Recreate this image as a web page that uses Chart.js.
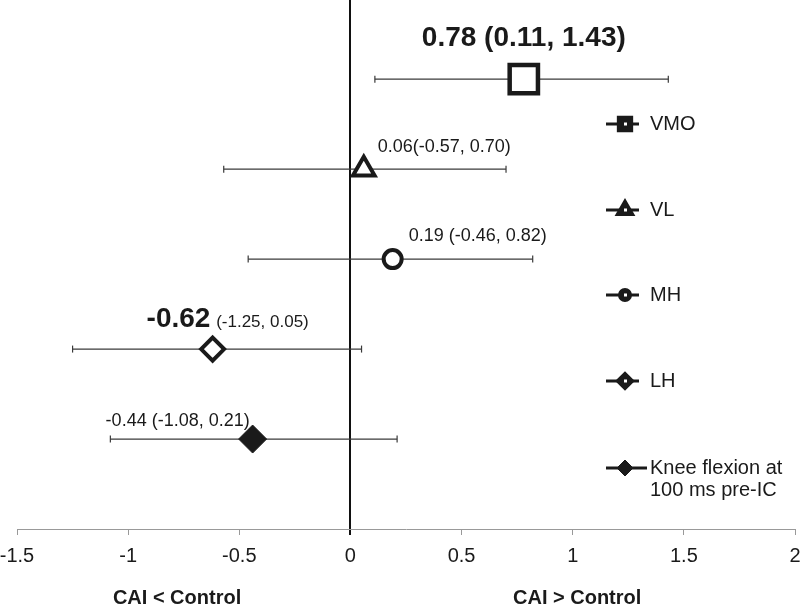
<!DOCTYPE html>
<html>
<head>
<meta charset="utf-8">
<script src="https://cdn.jsdelivr.net/npm/chart.js@4/dist/chart.umd.min.js"></script>
<style>
  html, body { margin: 0; padding: 0; background: #fff; }
  #wrap { width: 800px; height: 605px; position: relative; }
</style>
</head>
<body>
<div id="wrap"><canvas id="forest"></canvas></div>
<script>
// values
const measures = ["VMO", "VL", "MH", "LH", "Knee flexion at\n100 ms pre-IC"];
const effect = [0.78, 0.06, 0.19, -0.62, -0.44];
const lower = [0.11, -0.57, -0.46, -1.25, -1.08];
const upper = [1.43, 0.70, 0.82, 0.05, 0.21];
const rows = [5, 4, 3, 2, 1];
const headline = ["0.78 (0.11, 1.43)", "0.06(-0.57, 0.70)", "0.19 (-0.46, 0.82)", "-0.62", "-0.44 (-1.08, 0.21)"];
const ciTail = ["", "", "", " (-1.25, 0.05)", ""];
const sideLabels = ["CAI < Control", "CAI > Control"];
const sideLabelAt = [-0.78, 1.02];

const FONT = "'Liberation Sans', Arial, sans-serif";
const INK = "#1a1a1a";

const markers = [
  { style: "rect", r: 20, fill: "#fff", bw: 4.5, lr: 8, lbw: 5 },
  { style: "triangle", r: 12.5, fill: "#fff", bw: 4, lr: 8, lbw: 4 },
  { style: "circle", r: 9, fill: "#fff", bw: 4, lr: 5, lbw: 4 },
  { style: "rectRot", r: 11.5, fill: "#fff", bw: 4, lr: 7, lbw: 4 },
  { style: "rectRot", r: 14, fill: INK, bw: 1, lr: 8, lbw: 1 },
];

// label placement relative to the point (pixels)
const labelLayout = [
  { dx: 0, dy: -33, align: "center", size: 28, bold: true },
  { dx: 14, dy: -17, align: "left", size: 18, bold: false },
  { dx: 16, dy: -18, align: "left", size: 18, bold: false },
  { dx: -66, dy: -22, align: "left", size: 28, bold: true },
  { dx: -147, dy: -13, align: "left", size: 18, bold: false },
];
const legendRows = [124, 210, 295, 381, 468];

const datasets = [];
measures.forEach((m, i) => {
  const s = markers[i];
  datasets.push({
    label: m,
    data: [{ x: effect[i], y: rows[i] }],
    pointStyle: s.style,
    pointRadius: s.r,
    pointBorderWidth: s.bw,
    pointBackgroundColor: s.fill,
    pointBorderColor: INK,
    showLine: false,
    order: 0,
  });
  datasets.push({
    label: m + " CI",
    data: [{ x: lower[i], y: rows[i] }, { x: upper[i], y: rows[i] }],
    showLine: true,
    borderColor: "#3a3a3a",
    borderWidth: 1.2,
    pointStyle: "line",
    rotation: 90,
    pointRadius: 3.5,
    pointBorderWidth: 1.2,
    pointBorderColor: "#3a3a3a",
    order: 1,
  });
});

function drawMarker(ctx, style, x, y, r, bw, fill) {
  ctx.save();
  ctx.lineWidth = bw;
  ctx.strokeStyle = INK;
  ctx.fillStyle = fill;
  Chart.helpers.drawPoint(ctx, { pointStyle: style, radius: r, borderWidth: bw, rotation: 0 }, x, y);
  ctx.restore();
}

const annotate = {
  id: "annotate",
  afterDatasetsDraw(chart) {
    const { ctx, scales, chartArea } = chart;
    const xs = scales.x, ys = scales.y;
    ctx.save();
    ctx.fillStyle = INK;
    ctx.textBaseline = "alphabetic";

    headline.forEach((t, i) => {
      const L = labelLayout[i];
      const px = xs.getPixelForValue(effect[i]) + L.dx;
      const py = ys.getPixelForValue(rows[i]) + L.dy;
      ctx.font = (L.bold ? "bold " : "") + L.size + "px " + FONT;
      ctx.textAlign = L.align;
      ctx.fillText(t, px, py);
      if (ciTail[i]) {
        const w = ctx.measureText(t).width;
        ctx.font = "17px " + FONT;
        ctx.textAlign = "left";
        ctx.fillText(ciTail[i], px + w + 1, py);
      }
    });

    // legend, drawn inside the plot at the right
    measures.forEach((m, i) => {
      const s = markers[i];
      const y = legendRows[i];
      ctx.save();
      ctx.strokeStyle = INK;
      ctx.lineWidth = 3;
      ctx.beginPath();
      ctx.moveTo(606, y);
      ctx.lineTo(i === 4 ? 647 : 639, y);
      ctx.stroke();
      ctx.restore();
      drawMarker(ctx, s.style, 625, y, s.lr, s.lbw, INK);
      if (i < 4) {
        ctx.save();
        ctx.fillStyle = "#fff";
        ctx.fillRect(624, y - 1.5, 3, 3);
        ctx.restore();
      }
      ctx.font = "20px " + FONT;
      ctx.textAlign = "left";
      ctx.textBaseline = "middle";
      ctx.fillStyle = INK;
      m.split("\n").forEach((line, k) => ctx.fillText(line, 650, y + k * 22));
    });

    ctx.font = "bold 20px " + FONT;
    ctx.textAlign = "center";
    ctx.textBaseline = "alphabetic";
    sideLabels.forEach((t, i) => {
      ctx.fillText(t, xs.getPixelForValue(sideLabelAt[i]), chartArea.bottom + 75);
    });
    ctx.restore();
  },
};

new Chart(document.getElementById("forest"), {
  type: "scatter",
  data: { datasets },
  options: {
    responsive: true,
    maintainAspectRatio: false,
    animation: false,
    clip: false,
    layout: { autoPadding: false, padding: { left: 17, right: 5, top: 0, bottom: 28 } },
    plugins: { legend: { display: false }, tooltip: { enabled: false } },
    scales: {
      x: {
        type: "linear",
        min: -1.5,
        max: 2,
        afterFit: (scale) => {
          scale.paddingLeft = 0;
          scale.paddingRight = 0;
        },
        ticks: {
          stepSize: 0.5,
          padding: 9,
          color: INK,
          font: { family: FONT, size: 20 },
          callback: (v) => String(v),
        },
        grid: {
          color: (c) => (c.tick && c.tick.value === 0 ? "#111" : "rgba(0,0,0,0)"),
          lineWidth: (c) => (c.tick && c.tick.value === 0 ? 2 : 1),
          tickColor: (c) => (c.tick && c.tick.value === 0 ? "#111" : "#999"),
          tickWidth: (c) => (c.tick && c.tick.value === 0 ? 2 : 1),
          tickLength: 6,
        },
        border: { display: true, color: "#999", width: 1 },
      },
      y: { type: "linear", min: 0, max: 5.88, display: false },
    },
  },
  plugins: [annotate],
});
</script>
</body>
</html>
